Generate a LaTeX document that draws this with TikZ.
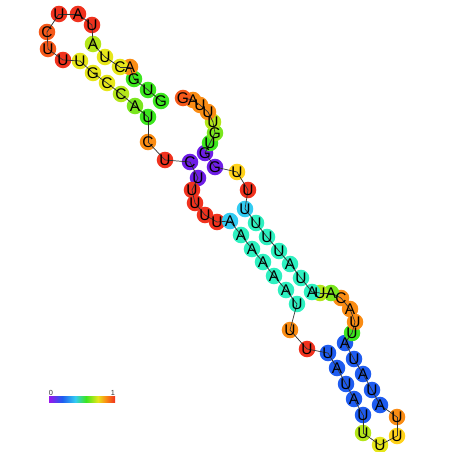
\documentclass[tikz,border=0pt]{standalone}
\usepackage{fontspec}
\setmainfont{Liberation Sans}
\usetikzlibrary{positioning}
\definecolor{rnroxo}{HTML}{6E1EE6}
\definecolor{rnazul}{HTML}{1F5CF0}
\definecolor{rnciano}{HTML}{33CCF2}
\definecolor{rnturquesa}{HTML}{2EF0C0}
\definecolor{rnverde}{HTML}{3CE61E}
\definecolor{rnverdeclaro}{HTML}{7AE61E}
\definecolor{rnlima}{HTML}{B4E61A}
\definecolor{rnamarelo}{HTML}{E6E61A}
\definecolor{rnouro}{HTML}{FFD21A}
\definecolor{rnlaranja}{HTML}{FA8C14}
\definecolor{rnlaranjaverm}{HTML}{F5591A}
\definecolor{rnvermelho}{HTML}{F0321E}
\definecolor{rnlinha}{HTML}{333333}
\pgfdeclarehorizontalshading{rnespectro}{100bp}{color(0bp)=(rnroxo!70!magenta); color(25bp)=(rnroxo!70!magenta);
  color(35bp)=(rnazul); color(45bp)=(rnciano); color(53bp)=(rnverde); color(62bp)=(rnamarelo);
  color(68bp)=(rnlaranja); color(75bp)=(rnvermelho); color(100bp)=(rnvermelho)}
\tikzset{
  rnbase/.style={circle, fill=#1, inner sep=0pt, minimum size=9.4pt},
  rnletra/.style={font=\fontsize{8.8}{9}\selectfont, inner sep=0pt, text height=6.3pt, text depth=0pt},
  rnespinha/.style={draw=rnlinha, line width=0.4pt},
  rnrotulo/.style={font=\fontsize{4.2}{5}\selectfont, inner sep=0pt, text=black!80},
}
\begin{document}
\begin{tikzpicture}[x=0.02cm, y=-0.02cm]
  \useasboundingbox (0,0) rectangle (452,452);
  % ---------------- haste superior e grampo ----------------
  \node[rnbase=rnverde] (b1) at (161,101) {};
  \node[rnbase=rnverde] (b2) at (148,90) {};
  \node[rnbase=rnverde] (b3) at (134,79) {};
  \node[rnbase=rnlaranja] (b4) at (130,67) {};
  \node[rnbase=rnamarelo] (b5) at (120,67) {};
  \node[rnbase=rnamarelo] (b6) at (105,57) {};
  \node[rnbase=rnlima] (b7) at (93,44) {};
  \node[rnbase=rnvermelho] (b8) at (92,25) {};
  \node[rnbase=rnvermelho] (b9) at (78,14) {};
  \node[rnbase=rnvermelho] (b10) at (59,14) {};
  \node[rnbase=rnlaranjaverm] (b11) at (47,32) {};
  \node[rnbase=rnlaranjaverm] (b12) at (48,49) {};
  \node[rnbase=rnvermelho] (b13) at (63,60) {};
  \node[rnbase=rnamarelo] (b14) at (80,61) {};
  \node[rnbase=rnamarelo] (b15) at (93,73) {};
  \node[rnbase=rnamarelo] (b16) at (107,83) {};
  \node[rnbase=rnlima] (b17) at (121,94) {};
  \node[rnbase=rnverdeclaro] (b18) at (135,106) {};
  \node[rnbase=rnverde] (b19) at (148,117) {};
  % ---------------- laco externo ----------------
  \node[rnbase=rnlaranja] (b20) at (148,142) {};
  \node[rnbase=rnvermelho] (b21) at (165,160) {};
  \node[rnbase=rnroxo] (b22) at (190,162) {};
  \node[rnbase=rnroxo] (b23) at (198,178) {};
  % ---------------- laco interno 1 ----------------
  \node[rnbase=rnvermelho] (b24) at (192,190) {};
  \node[rnbase=rnvermelho] (b25) at (195,203) {};
  \node[rnbase=rnvermelho] (b26) at (205,215) {};
  \node[rnbase=rnvermelho] (b27) at (217,222) {};
  % ---------------- haste central ----------------
  \node[rnbase=rnciano] (b28) at (230,221) {};
  \node[rnbase=rnturquesa] (b29) at (241,235) {};
  \node[rnbase=rnturquesa] (b30) at (252,249) {};
  \node[rnbase=rnturquesa] (b31) at (263,262) {};
  \node[rnbase=rnturquesa] (b32) at (274,276) {};
  \node[rnbase=rnturquesa] (b33) at (286,290) {};
  \node[rnbase=rnturquesa] (b34) at (297,304) {};
  % ---------------- laco interno 2, lado esquerdo ----------------
  \node[rnbase=rnlaranja] (b35) at (290,330) {};
  \node[rnbase=rnvermelho] (b36) at (307,349) {};
  % ---------------- haste inferior e grampo ----------------
  \node[rnbase=rnazul] (b37) at (328,353) {};
  \node[rnbase=rnazul] (b38) at (337,368) {};
  \node[rnbase=rnazul] (b39) at (346,384) {};
  \node[rnbase=rnazul] (b40) at (354,399) {};
  \node[rnbase=rnazul] (b41) at (363,415) {};
  \node[rnbase=rnlima] (b42) at (363,433) {};
  \node[rnbase=rnamarelo] (b43) at (380,445) {};
  \node[rnbase=rnouro] (b44) at (397,436) {};
  \node[rnbase=rnlaranja] (b45) at (397,417) {};
  \node[rnbase=rnazul] (b46) at (380,405) {};
  \node[rnbase=rnazul] (b47) at (372,390) {};
  \node[rnbase=rnazul] (b48) at (363,374) {};
  \node[rnbase=rnazul] (b49) at (354,359) {};
  \node[rnbase=rnazul] (b50) at (345,343) {};
  % ---------------- laco interno 2, lado direito ----------------
  \node[rnbase=rnverde] (b51) at (352,333) {};
  \node[rnbase=rnlaranja] (b52) at (355,322) {};
  \node[rnbase=rnlaranja] (b53) at (350,309) {};
  \node[rnbase=rnlaranja] (b54) at (341,298) {};
  \node[rnbase=rnverdeclaro] (b55) at (331,293) {};
  \node[rnbase=rnlima] (b56) at (320,293) {};
  % ---------------- haste central, volta ----------------
  \node[rnbase=rnturquesa] (b57) at (312,292) {};
  \node[rnbase=rnturquesa] (b58) at (301,278) {};
  \node[rnbase=rnturquesa] (b59) at (290,264) {};
  \node[rnbase=rnturquesa] (b60) at (279,251) {};
  \node[rnbase=rnturquesa] (b61) at (267,237) {};
  \node[rnbase=rnturquesa] (b62) at (256,223) {};
  \node[rnbase=rnciano] (b63) at (245,209) {};
  \node[rnbase=rnvermelho] (b64) at (248,190) {};
  \node[rnbase=rnouro] (b65) at (237,172) {};
  \node[rnbase=rnroxo] (b66) at (215,167) {};
  \node[rnbase=rnroxo] (b67) at (205,153) {};
  % ---------------- cauda 3' ----------------
  \node[rnbase=rnverde] (b68) at (210,143) {};
  \node[rnbase=rnverdeclaro] (b69) at (215,133) {};
  \node[rnbase=rnlima] (b70) at (213,122) {};
  \node[rnbase=rnlaranja] (b71) at (208,112) {};
  \node[rnbase=rnlaranja] (b72) at (200,105) {};
  \node[rnbase=rnlaranja] (b73) at (193,100) {};
  \node[rnbase=rnlaranjaverm] (b74) at (183,98) {};
  % ---------------- espinha ----------------
  \foreach \n [count=\m from 2] in {1,...,73}
    \draw[rnespinha] (b\n.center) -- (b\m.center);
  % ---------------- letras ----------------
  \foreach \n/\t in {1/G,2/U,3/G,4/A,5/C,6/U,7/A,8/U,9/A,10/U,11/C,12/U,13/U,14/U,15/G,16/C,17/C,18/A,19/U,
      20/C,21/U,22/C,23/U,24/U,25/U,26/U,27/U,28/A,29/A,30/A,31/A,32/A,33/A,34/U,35/U,36/U,37/U,38/A,39/U,
      40/A,41/U,42/U,43/U,44/U,45/U,46/A,47/U,48/A,49/U,50/A,51/U,52/U,53/A,54/C,55/A,56/U,57/A,58/U,59/A,
      60/U,61/U,62/U,63/U,64/U,65/U,66/G,67/G,68/U,69/G,70/U,71/U,72/U,73/A,74/G}
    \node[rnletra] (l\n) at (b\n) {\t};
  % ---------------- escala ----------------
  \shade[shading=rnespectro] (49,396) rectangle (115,402.5);
  \node[rnrotulo] (z0) at (51,392.5) {0};
  \node[rnrotulo] (z1) at (113,392.5) {1};
\end{tikzpicture}
\end{document}
